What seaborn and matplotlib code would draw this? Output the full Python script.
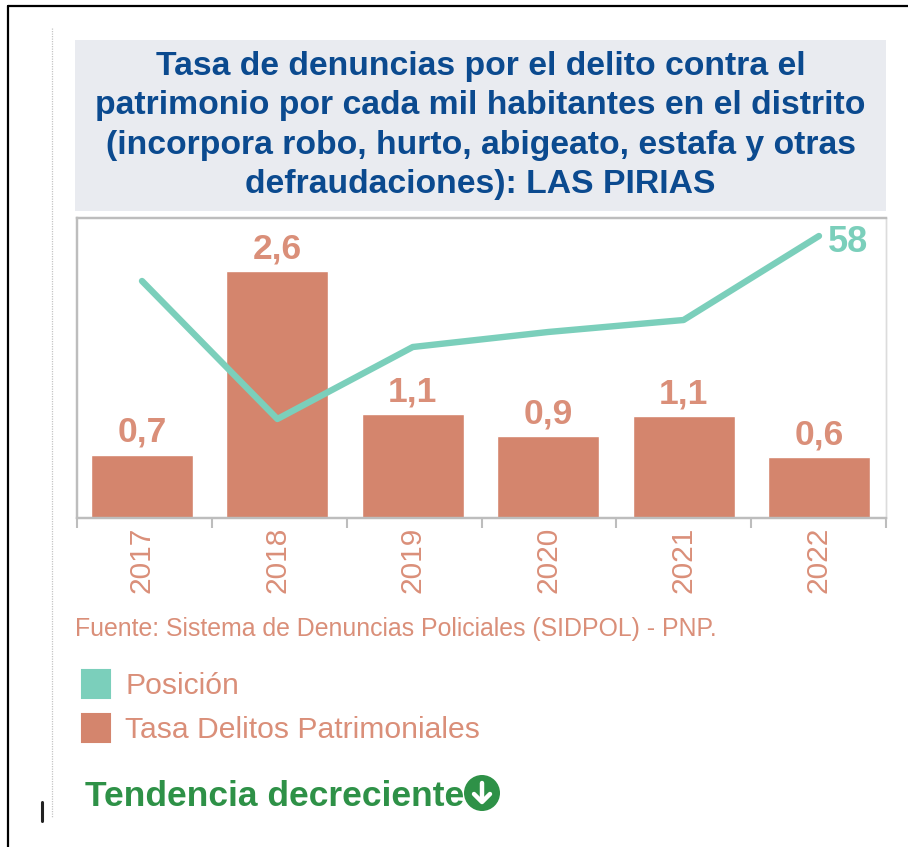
import numpy as np
import pandas as pd
import seaborn as sns
import matplotlib.pyplot as plt
from matplotlib.patches import Circle, Patch, Rectangle
from matplotlib.lines import Line2D

years = ['2017', '2018', '2019', '2020', '2021', '2022']
tasa = [0.67, 2.61, 1.10, 0.87, 1.08, 0.64]
tasa_labels = ['0,7', '2,6', '1,1', '0,9', '1,1', '0,6']
posicion = [73, 119, 95, 90, 86, 58]

title = ('Tasa de denuncias por el delito contra el\n'
         'patrimonio por cada mil habitantes en el distrito\n'
         '(incorpora robo, hurto, abigeato, estafa y otras\n'
         'defraudaciones): LAS PIRIAS')
fuente = 'Fuente: Sistema de Denuncias Policiales (SIDPOL) - PNP.'

SALMON = '#d4856d'
SALMON_TXT = '#da8f79'
TEAL = '#7bcfbb'
GREEN = '#2e9147'
BLUE = '#0b4a8f'
GREY = '#bdbdbd'

sns.set_theme(style='white')
plt.rcParams['font.family'] = ['Liberation Sans', 'DejaVu Sans']

W, H = 908, 847
fig = plt.figure(figsize=(W / 100, H / 100), dpi=100)
ax = fig.add_axes([77 / W, (H - 518) / H, 809 / W, 300 / H])

df = pd.DataFrame({'year': years, 'tasa': tasa, 'posicion': posicion})
sns.barplot(data=df, x='year', y='tasa', color=SALMON, saturation=1, width=0.753, ax=ax)
ax.set_ylim(0, 300 / 94.6)
ax.set_yticks([])
ax.set_xlabel('')
ax.set_ylabel('')

for i, lab in enumerate(tasa_labels):
    ax.text(i, tasa[i] + 0.06, lab, ha='center', va='bottom', fontsize=25.5,
            fontweight='bold', color=SALMON_TXT)

ax2 = ax.twinx()
sns.lineplot(data=df, x='year', y='posicion', color=TEAL, linewidth=4.6, sort=False,
             solid_capstyle='round', ax=ax2)
ax2.set_ylim(152, 52)
ax2.set_yticks([])
ax2.set_ylabel('')
ax2.text(5.065, posicion[-1] + 2.3, str(posicion[-1]), ha='left', va='center', fontsize=26,
         fontweight='bold', color=TEAL)

ax.set_xlim(-0.48, 5.495)
ax.set_xticks(np.arange(6))
ax.set_xticklabels(years, rotation=90, fontsize=21.5, color=SALMON_TXT)
# tick marks split the axis evenly, the bars sit a little off that grid
ax.set_xticks(np.linspace(-0.48, 5.495, 7), minor=True)
ax.tick_params(axis='x', which='major', length=0, pad=6)
ax.tick_params(axis='x', which='minor', length=7, width=1.5, color=GREY, bottom=True)
for a in (ax, ax2):
    for name, sp in a.spines.items():
        sp.set_color('#dcdcdc' if name == 'right' else GREY)
        sp.set_linewidth(1.6 if name != 'right' else 1)

# everything around the chart, in pixel coordinates
over = fig.add_axes([0, 0, 1, 1], zorder=-1)
over.set_xlim(0, W)
over.set_ylim(H, 0)
over.axis('off')
over.add_patch(Rectangle((75, 40), 811, 171, color='#e9ebf0', lw=0))
over.text(480.5, 125.5, title, ha='center', va='center', fontsize=24.3, fontweight='bold',
          color=BLUE, linespacing=1.35)
over.text(75, 629, fuente, ha='left', va='center', fontsize=17.9, color=SALMON_TXT)
over.text(85, 796, 'Tendencia decreciente', ha='left', va='center', fontsize=25.5,
          fontweight='bold', color=GREEN)
over.add_patch(Circle((482, 793), 18, color=GREEN, lw=0))
over.plot([482, 482], [783, 801], color='white', lw=3.2, solid_capstyle='round')
over.plot([474, 482, 490], [794, 802, 794], color='white', lw=3.2, solid_capstyle='round',
          solid_joinstyle='round')

# page edges
over.add_line(Line2D([8, 8], [6, H], color='black', lw=1.6))
over.add_line(Line2D([8, W], [6, 6], color='black', lw=1.6))
over.add_line(Line2D([52, 52], [28, 818], color='#c4c4c4', lw=0.9, ls=(0, (1, 1))))
over.add_line(Line2D([42, 42], [802, 821], color='#222222', lw=2.2))

handles = [Patch(facecolor=TEAL, edgecolor=TEAL, lw=1.5, joinstyle='round', label='Posición'),
           Patch(facecolor=SALMON, edgecolor=SALMON, lw=1.5, joinstyle='round',
                 label='Tasa Delitos Patrimoniales')]
fig.legend(handles=handles, loc='upper left', bbox_to_anchor=(73 / W, 1 - 661 / H),
           frameon=False, fontsize=21.7, labelcolor=SALMON_TXT, handlelength=0.93,
           handleheight=1.05, handletextpad=0.5, labelspacing=0.44, borderpad=0.3,
           borderaxespad=0)

fig.savefig('out.png', dpi=100, facecolor='white')
